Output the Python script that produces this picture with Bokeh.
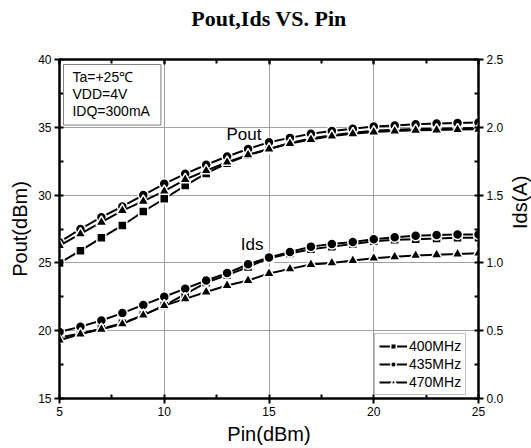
import math
from bokeh.plotting import figure
from bokeh.models import (Range1d, LinearAxis, SingleIntervalTicker, NumeralTickFormatter,
                          Legend, LegendItem, Label)
from bokeh.embed import file_html
from bokeh.resources import INLINE

# ---- data ----
pin = [5, 6, 7, 8, 9, 10, 11, 12, 13, 14, 15, 16, 17, 18, 19, 20, 21, 22, 23, 24, 25]
pout_400 = [25.0, 25.9, 26.85, 27.76, 28.79, 29.73, 30.7, 31.6, 32.35, 32.95, 33.4,
            33.85, 34.18, 34.42, 34.6, 34.74, 34.82, 34.87, 34.9, 34.93, 34.95]
pout_435 = [26.53, 27.5, 28.37, 29.16, 30.0, 30.83, 31.57, 32.24, 32.85, 33.4, 33.9,
            34.22, 34.52, 34.72, 34.89, 35.06, 35.13, 35.22, 35.28, 35.32, 35.35]
pout_470 = [26.28, 27.14, 28.0, 28.86, 29.55, 30.29, 31.15, 31.8, 32.43, 32.97, 33.4,
            33.8, 34.1, 34.35, 34.52, 34.65, 34.72, 34.78, 34.8, 34.83, 34.85]
ids_400 = [0.45, 0.48, 0.515, 0.555, 0.615, 0.685, 0.77, 0.855, 0.91, 0.97, 1.035,
           1.07, 1.10, 1.12, 1.14, 1.16, 1.17, 1.175, 1.18, 1.185, 1.185]
ids_435 = [0.49, 0.53, 0.575, 0.63, 0.69, 0.75, 0.81, 0.87, 0.925, 0.99, 1.04,
           1.08, 1.12, 1.14, 1.155, 1.175, 1.19, 1.20, 1.205, 1.21, 1.21]
ids_470 = [0.43, 0.475, 0.51, 0.55, 0.615, 0.685, 0.735, 0.785, 0.833, 0.87, 0.922,
           0.956, 0.988, 1.0, 1.018, 1.035, 1.045, 1.055, 1.06, 1.065, 1.072]
series_names = ["400MHz", "435MHz", "470MHz"]
markers = ["square", "circle", "triangle"]
marker_sizes = [9, 10, 11]
title_text = "Pout,Ids VS. Pin"
conditions = "Ta=+25\u2103\nVDD=4V\nIDQ=300mA"

FONT = "Liberation Sans"

p = figure(frame_width=419, frame_height=339, output_backend="svg", toolbar_location=None,
           x_range=Range1d(5, 25), y_range=Range1d(15, 40), title=None,
           min_border_left=59, min_border_right=53, min_border_top=59, min_border_bottom=50)
p.extra_y_ranges = {"ids": Range1d(0, 2.5)}

def style_axis(ax):
    ax.axis_line_width = 2
    ax.axis_line_color = "black"
    ax.major_tick_line_width = 2
    ax.minor_tick_line_width = 2
    ax.major_tick_line_color = "black"
    ax.minor_tick_line_color = "black"
    ax.major_tick_out = 5
    ax.major_tick_in = 0
    ax.minor_tick_out = 0
    ax.minor_tick_in = 4
    ax.major_label_text_font = FONT
    ax.major_label_text_font_size = "12px"
    ax.major_label_text_color = "black"
    ax.axis_label_text_font = FONT
    ax.axis_label_text_font_style = "normal"
    ax.axis_label_text_font_size = "20px"
    ax.axis_label_text_color = "black"
    ax.major_label_standoff = 3
    ax.axis_label_standoff = 4

xa = p.xaxis[0]
xa.ticker = SingleIntervalTicker(interval=5, num_minor_ticks=2)
xa.axis_label = "Pin(dBm)"
style_axis(xa)

ya = p.yaxis[0]
ya.ticker = SingleIntervalTicker(interval=5, num_minor_ticks=2)
ya.axis_label = "Pout(dBm)"
style_axis(ya)

ra = LinearAxis(y_range_name="ids", ticker=SingleIntervalTicker(interval=0.5, num_minor_ticks=2),
                formatter=NumeralTickFormatter(format="0.0"), axis_label="Ids(A)")
style_axis(ra)
ra.axis_label_standoff = 14
try:
    ra.axis_label_orientation = math.pi / 2
except Exception:
    pass
p.add_layout(ra, "right")

# top frame axis: inward ticks, carries the chart title as its label
ta = LinearAxis(ticker=SingleIntervalTicker(interval=5, num_minor_ticks=2),
                axis_label=title_text)
style_axis(ta)
ta.major_tick_out = 0
ta.major_tick_in = 5
ta.major_label_text_color = None
ta.major_label_text_font_size = "1px"
ta.major_label_standoff = 0
ta.axis_label_text_font = "Liberation Serif"
ta.axis_label_text_font_style = "bold"
ta.axis_label_text_font_size = "22px"
ta.axis_label_standoff = 29
p.add_layout(ta, "above")

p.xgrid.grid_line_color = "#a0a0a0"
p.ygrid.grid_line_color = "#a0a0a0"
p.xgrid.grid_line_width = 1
p.ygrid.grid_line_width = 1
p.outline_line_color = "black"
p.outline_line_width = 2

items = []
for name, mk, ms, po, idv in zip(series_names, markers, marker_sizes,
                                 [pout_400, pout_435, pout_470],
                                 [ids_400, ids_435, ids_470]):
    l1 = p.line(pin, po, line_color="black", line_width=2)
    s1 = p.scatter(pin, po, marker=mk, size=ms, fill_color="black",
                   line_color="white", line_width=1.5)
    p.line(pin, idv, line_color="black", line_width=2, y_range_name="ids")
    p.scatter(pin, idv, marker=mk, size=ms, fill_color="black",
              line_color="white", line_width=1.5, y_range_name="ids")
    items.append(LegendItem(label=name, renderers=[l1, s1]))

legend = Legend(items=items, location=(315, 3), border_line_color="#808080",
                border_line_width=1, background_fill_color="white", background_fill_alpha=1,
                label_text_font=FONT, label_text_font_size="14px", label_text_color="black",
                glyph_width=28, glyph_height=14, label_height=14, spacing=2, padding=4,
                margin=0, label_standoff=2)
p.add_layout(legend)

p.add_layout(Label(x=5.19, y=39.63, text=conditions, text_align="left", text_baseline="top",
                   text_font=FONT, text_font_size="14px", text_line_height=1.08,
                   text_color="black",
                   border_line_color="#808080", background_fill_color="white",
                   padding=dict(left=9, right=11, top=4, bottom=6)))
p.add_layout(Label(x=12.97, y=34.47, text="Pout", text_align="left", text_baseline="middle",
                   text_font=FONT, text_font_size="17px", text_color="black"))
p.add_layout(Label(x=13.65, y=26.35, text="Ids", text_align="left", text_baseline="middle",
                   text_font=FONT, text_font_size="17px", text_color="black"))

open("out.html", "w").write(file_html(p, INLINE))
